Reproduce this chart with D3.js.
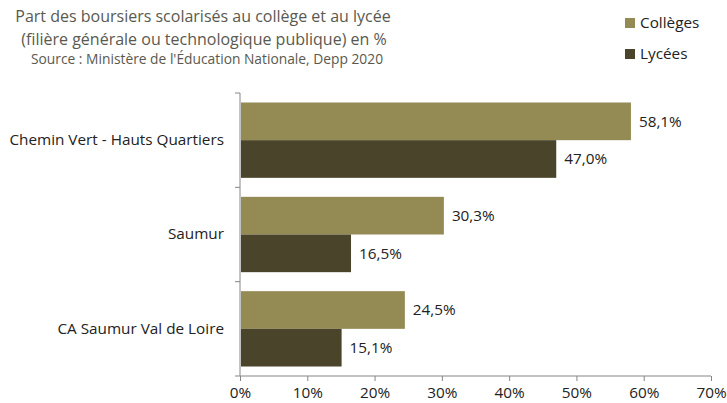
<!DOCTYPE html>
<html>
<head>
<meta charset="utf-8">
<script src="https://cdn.jsdelivr.net/npm/d3@7"></script>
<style>
  body { margin: 0; background: #fff; }
  svg text { font-family: "Open Sans", sans-serif; }
</style>
</head>
<body>
<div id="chart"></div>
<script>
var categories = ["Chemin Vert - Hauts Quartiers", "Saumur", "CA Saumur Val de Loire"];
var series = ["Collèges", "Lycées"];
var colleges = [58.1, 30.3, 24.5];
var lycees = [47.0, 16.5, 15.1];
var xTicks = [0, 10, 20, 30, 40, 50, 60, 70];
var colors = ["#948a54", "#4a452a"];

var svgWidth = 727, svgHeight = 403;
var margin = { top: 93, right: 16, bottom: 27, left: 240 };
var width = svgWidth - margin.left - margin.right;
var height = svgHeight - margin.top - margin.bottom;

var svg = d3.select("#chart").append("svg")
  .attr("width", svgWidth)
  .attr("height", svgHeight);

// title
var title = svg.append("text").attr("text-anchor", "middle").attr("fill", "#595950");
title.append("tspan").attr("x", 203).attr("y", 22).attr("font-size", 16)
  .text("Part des boursiers scolarisés au collège et au lycée");
title.append("tspan").attr("x", 204).attr("y", 45).attr("font-size", 16)
  .text("(filière générale ou technologique publique) en %");
title.append("tspan").attr("x", 207).attr("y", 64).attr("font-size", 13.8)
  .text("Source : Ministère de l'Éducation Nationale, Depp 2020");

var chartGroup = svg.append("g")
  .attr("transform", `translate(${margin.left}, ${margin.top})`);

var xScale = d3.scaleLinear().domain([0, 70]).range([0, width]);
var yScale = d3.scaleBand().domain(categories).range([0, height]);
var inner = d3.scaleBand().domain(series).range([9.5, yScale.bandwidth() - 9.5]);

// bars
var data = [];
categories.forEach(function(c, i) {
  data.push({ cat: c, s: series[0], v: colleges[i] });
  data.push({ cat: c, s: series[1], v: lycees[i] });
});

chartGroup.selectAll("rect.bar")
  .data(data)
  .enter()
  .append("rect")
  .attr("class", "bar")
  .attr("x", 1)
  .attr("y", d => yScale(d.cat) + inner(d.s))
  .attr("width", d => xScale(d.v) - 1)
  .attr("height", inner.bandwidth())
  .attr("fill", d => colors[series.indexOf(d.s)]);

chartGroup.selectAll("text.val")
  .data(data)
  .enter()
  .append("text")
  .attr("class", "val")
  .attr("x", d => xScale(d.v) + 8)
  .attr("y", d => yScale(d.cat) + inner(d.s) + inner.bandwidth() / 2)
  .attr("dy", "0.35em")
  .attr("font-size", 15.3)
  .attr("fill", "#222")
  .text(d => d3.format(".1f")(d.v).replace(".", ",") + "%");

// x axis
var xAxis = d3.axisBottom(xScale).tickValues(xTicks).tickSize(5).tickPadding(6)
  .tickFormat(d => d + "%");
var gx = chartGroup.append("g")
  .attr("transform", `translate(0, ${height})`)
  .call(xAxis);
gx.select(".domain").attr("stroke", "#868686").attr("d", `M0,0H${width}`);
gx.selectAll(".tick line").attr("stroke", "#868686");
gx.selectAll(".tick text").attr("font-size", 15.3).attr("fill", "#222")
  .attr("font-family", "Open Sans, sans-serif");

// y axis: category dividers
var yAxis = d3.axisLeft(yScale).tickSize(0).tickPadding(16);
var gy = chartGroup.append("g").call(yAxis);
gy.select(".domain").attr("stroke", "#868686").attr("d", `M0,0V${height}`);
gy.selectAll(".tick text").attr("font-size", 15.3).attr("fill", "#222")
  .attr("font-family", "Open Sans, sans-serif");
var bounds = categories.map(c => yScale(c)).concat([height]);
chartGroup.selectAll("line.div")
  .data(bounds)
  .enter()
  .append("line")
  .attr("x1", -5).attr("x2", 0)
  .attr("y1", d => d).attr("y2", d => d)
  .attr("stroke", "#868686");

// legend
var legend = svg.append("g").attr("transform", "translate(625, 18)");
series.forEach(function(s, i) {
  var g = legend.append("g").attr("transform", `translate(0, ${i * 31})`);
  g.append("rect").attr("width", 10).attr("height", 10).attr("fill", colors[i]);
  g.append("text").attr("x", 15).attr("y", 5).attr("dy", "0.35em")
    .attr("font-size", 15.3).attr("fill", "#222").text(s);
});
</script>
</body>
</html>
